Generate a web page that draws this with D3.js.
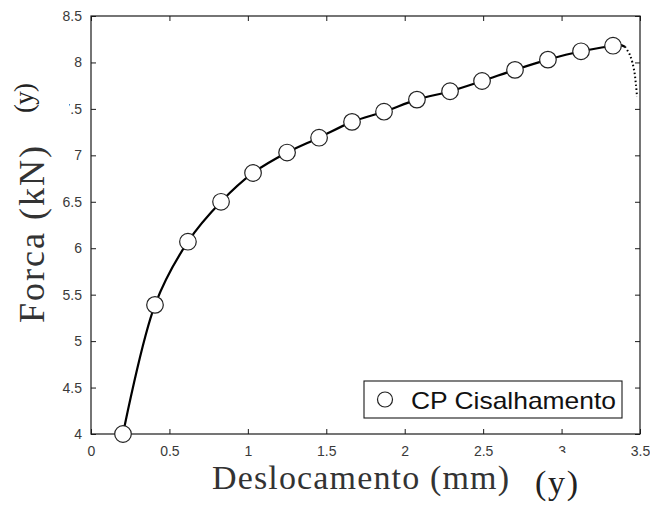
<!DOCTYPE html>
<html><head><meta charset="utf-8">
<script src="https://cdn.jsdelivr.net/npm/d3@7"></script>
<style>html,body{margin:0;padding:0;background:#fff}</style>
</head><body>
<svg id="c" width="650" height="505"></svg>
<script>
const markerX = [0.204,0.408,0.618,0.829,1.033,1.250,1.454,1.664,1.868,2.078,2.289,2.493,2.703,2.913,3.124,3.328];
const markerY = [4.00,5.39,6.07,6.50,6.81,7.03,7.19,7.36,7.47,7.60,7.69,7.80,7.92,8.03,8.12,8.18];
const tailX = [3.328,3.370,3.404];
const tailY = [8.18,8.19,8.17];
const dropX = [3.404,3.436,3.462,3.474,3.481];
const dropY = [8.17,8.08,7.92,7.76,7.63];
const xTicks = [0,0.5,1,1.5,2,2.5,3,3.5];
const yTicks = [4,4.5,5,5.5,6,6.5,7,7.5,8,8.5];
const seriesName = "CP Cisalhamento";
const xLabel = "Deslocamento (mm)";
const yLabel = "Forca (kN)";

const svg = d3.select("#c");
const L=91,R=640,T=16,B=434;
const x = d3.scaleLinear().domain([0,3.5]).range([L,R]);
const y = d3.scaleLinear().domain([4,8.5]).range([B,T]);
const ink="#1a1a1a", tickCol="#3a3a3a";
const serif="Liberation Serif, Times New Roman, serif";

svg.append("rect").attr("x",L).attr("y",T).attr("width",R-L).attr("height",B-T)
  .attr("fill","none").attr("stroke",ink).attr("stroke-width",1.2);

const fmt = d=>String(d);
const ax = (g)=>g.call(s=>s.select(".domain").remove()).selectAll("text")
  .attr("font-family","Liberation Sans, Arial, sans-serif").attr("font-size",14).attr("fill",tickCol);
svg.append("g").attr("transform",`translate(0,${B})`)
  .call(d3.axisBottom(x).tickValues(xTicks).tickFormat(fmt).tickSizeInner(-5).tickSizeOuter(0).tickPadding(12))
  .call(ax);
svg.append("g").attr("transform",`translate(0,${T})`)
  .call(d3.axisTop(x).tickValues(xTicks).tickFormat("").tickSizeInner(-5).tickSizeOuter(0))
  .call(s=>s.select(".domain").remove());
svg.append("g").attr("transform",`translate(${L},0)`)
  .call(d3.axisLeft(y).tickValues(yTicks).tickFormat(fmt).tickSizeInner(-5).tickSizeOuter(0).tickPadding(9))
  .call(ax);
svg.append("g").attr("transform",`translate(${R},0)`)
  .call(d3.axisRight(y).tickValues(yTicks).tickFormat("").tickSizeInner(-5).tickSizeOuter(0))
  .call(s=>s.select(".domain").remove());
svg.selectAll(".tick line").attr("stroke",ink).attr("stroke-width",1);

const pts = markerX.map((v,i)=>[v,markerY[i]]).concat(tailX.slice(1).map((v,i)=>[v,tailY[i+1]]));
const line = d3.line().x(d=>x(d[0])).y(d=>y(d[1])).curve(d3.curveCatmullRom.alpha(0.5));
svg.append("path").attr("d",line(pts)).attr("fill","none").attr("stroke","#000").attr("stroke-width",2.2);
svg.append("path").attr("d",line(dropX.map((v,i)=>[v,dropY[i]]))).attr("fill","none")
  .attr("stroke","#000").attr("stroke-width",2).attr("stroke-dasharray","1.5,2.5");

svg.append("g").selectAll("circle").data(markerX).join("circle")
  .attr("cx",d=>x(d)).attr("cy",(d,i)=>y(markerY[i])).attr("r",8.3)
  .attr("fill","#fff").attr("stroke","#222").attr("stroke-width",1.2);

const lg = svg.append("g");
lg.append("rect").attr("x",364).attr("y",381).attr("width",258).attr("height",37)
  .attr("fill","#fff").attr("stroke",ink).attr("stroke-width",1.1);
lg.append("circle").attr("cx",385).attr("cy",399.5).attr("r",7.5).attr("fill","#fff").attr("stroke","#222").attr("stroke-width",1.2);
lg.append("text").attr("x",411).attr("y",408.5).attr("font-family","Liberation Sans, Arial, sans-serif")
  .attr("font-size",24).attr("fill","#111").attr("textLength",205).attr("lengthAdjust","spacingAndGlyphs").text(seriesName);

svg.append("rect").attr("x",522).attr("y",453).attr("width",62).attr("height",52).attr("fill","#fff");
svg.append("text").attr("x",212).attr("y",489).attr("font-family",serif)
  .attr("font-size",34).attr("fill","#333").attr("textLength",297).attr("lengthAdjust","spacing").text(xLabel);
svg.append("text").attr("x",535).attr("y",494).attr("font-family",serif)
  .attr("font-size",34).attr("fill","#222").attr("textLength",43).attr("lengthAdjust","spacing").text("(y)");

svg.append("rect").attr("x",8).attr("y",78).attr("width",61).attr("height",40).attr("fill","#fff");
svg.append("text").attr("transform","translate(44,323) rotate(-90)").attr("font-family",serif)
  .attr("font-size",36).attr("fill","#333").attr("textLength",177).attr("lengthAdjust","spacing").text(yLabel);
svg.append("text").attr("transform","translate(33,113) rotate(-90)").attr("font-family",serif)
  .attr("font-size",27).attr("fill","#222").attr("textLength",30).attr("lengthAdjust","spacing").text("(y)");
</script>
</body></html>
